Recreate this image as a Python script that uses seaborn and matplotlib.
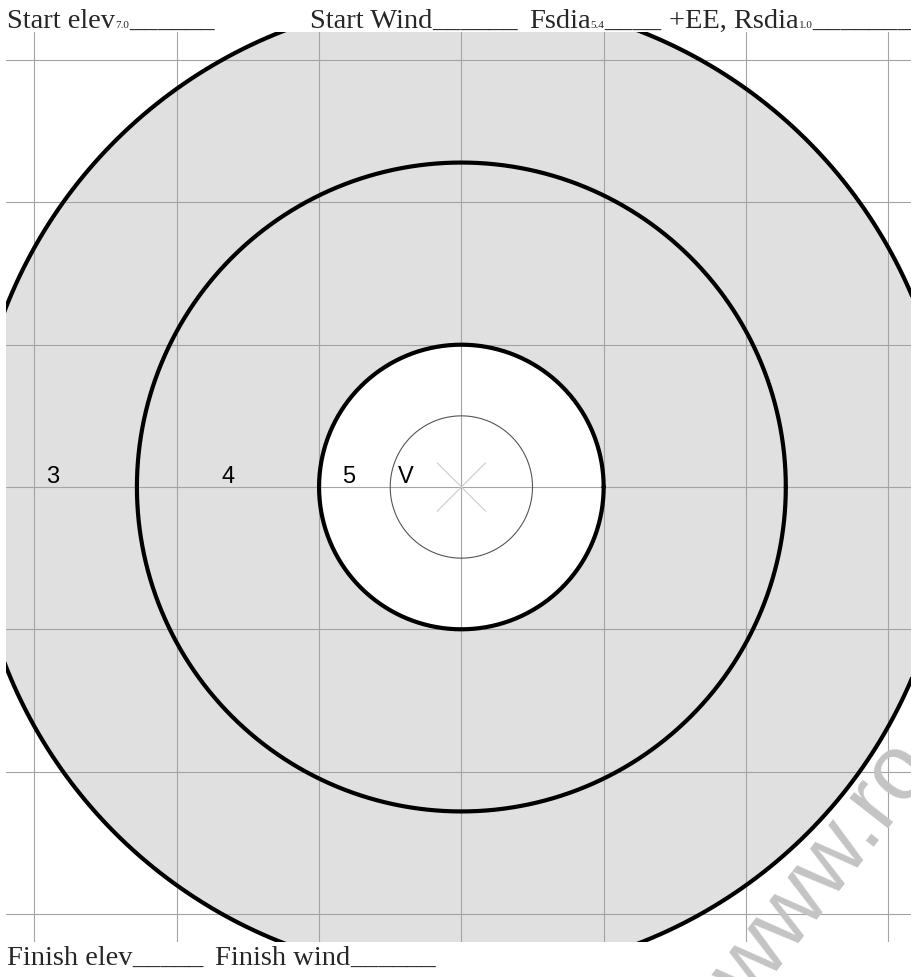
import numpy as np
import pandas as pd
import matplotlib
matplotlib.use("Agg")
import matplotlib.pyplot as plt
import seaborn as sns

# target data (grid units)
ring_names = ["3", "4", "5", "V"]
ring_radii = [3.44, 2.28, 1.0, 0.5]
grid_ticks = [-3, -2, -1, 0, 1, 2, 3]
label_x = [-2.87, -1.64, -0.79, -0.39]

header_labels = ["Start elev", "Start Wind", "Fsdia", "+EE, Rsdia"]
header_subs = ["7.0", "", "5.4", "1.0"]
header_blanks = [6, 6, 4, 8]
footer_labels = ["Finish elev", "Finish wind"]
footer_blanks = [5, 6]

W, H = 912, 977
GRID_PX = 142.3


def ring_frame(r, n=721):
    t = np.linspace(0, 2 * np.pi, n)
    return pd.DataFrame({"x": r * np.cos(t), "y": r * np.sin(t)})


def main():
    sns.set_style("white")
    plt.rcParams["font.family"] = ["Liberation Serif", "DejaVu Serif"]

    fig = plt.figure(figsize=(W / 100, H / 100), dpi=100)
    ax_w = 6.4 * GRID_PX
    ax = fig.add_axes([6 / W, 1 - (487 + ax_w / 2) / H, ax_w / W, ax_w / H])

    # filled zones
    outer = ring_frame(ring_radii[0])
    ax.fill(outer["x"], outer["y"], color="#e0e0e0", zorder=0, lw=0)
    inner = ring_frame(ring_radii[2])
    ax.fill(inner["x"], inner["y"], color="white", zorder=0.5, lw=0)

    # grid
    for g in grid_ticks:
        ax.axvline(g, color="#a4a4a4", lw=0.8, zorder=1)
        ax.axhline(g, color="#a4a4a4", lw=0.8, zorder=1)

    # center cross
    c = 0.17
    ax.plot([-c, c], [-c, c], color="#cccccc", lw=0.8, zorder=1.5)
    ax.plot([-c, c], [c, -c], color="#cccccc", lw=0.8, zorder=1.5)

    # rings
    for name, r in zip(ring_names, ring_radii):
        df = ring_frame(r)
        if name == "V":
            sns.lineplot(data=df, x="x", y="y", sort=False, estimator=None,
                         ax=ax, color="#555555", lw=0.8, zorder=2)
        else:
            sns.lineplot(data=df, x="x", y="y", sort=False, estimator=None,
                         ax=ax, color="black", lw=3.0, zorder=2)

    ax.set_xlim(-3.2, 3.2)
    ax.set_ylim(-3.2, 3.2)
    ax.set_aspect("equal")
    ax.axis("off")

    for name, lx in zip(ring_names, label_x):
        ax.text(lx, 0.025, name, ha="center", va="baseline", fontsize=17,
                family=["Liberation Sans", "DejaVu Sans"], color="black", zorder=3)

    # header / footer form fields
    fig.canvas.draw()
    rend = fig.canvas.get_renderer()

    def field(x0, y0, label, sub, blanks):
        x = x0
        for txt, size in [(label, 20.5), (sub, 8), ("_" * blanks, 20.5)]:
            if not txt:
                continue
            t = fig.text(x / W, y0, txt, fontsize=size, ha="left", va="baseline")
            x = t.get_window_extent(rend).x1
        return x

    hy = 1 - 28 / H
    for x0, lab, sub, nb in zip([7, 310, 529, 669], header_labels, header_subs, header_blanks):
        field(x0, hy, lab, sub, nb)

    fy = 1 - 965 / H
    for x0, lab, nb in zip([7, 215], footer_labels, footer_blanks):
        field(x0, fy, lab, "", nb)

    # watermark
    fig.text(750 / W, 1 - 1005 / H, "www.ro", rotation=52, rotation_mode="anchor",
             fontsize=66, color="#c4c4c4", ha="left", va="baseline",
             family=["Liberation Sans", "DejaVu Sans"], zorder=10)

    fig.savefig("out.png", dpi=100)
    plt.close(fig)


if __name__ == "__main__":
    main()
